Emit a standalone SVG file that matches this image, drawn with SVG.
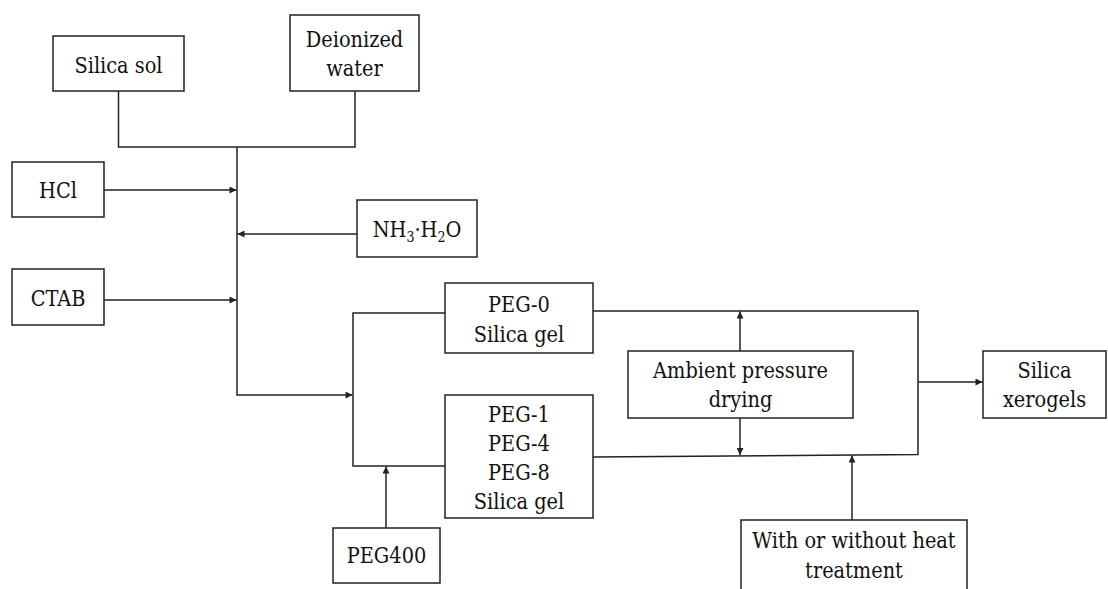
<svg xmlns="http://www.w3.org/2000/svg" width="1108" height="589" viewBox="0 0 1108 589">
<style>
.box{fill:#fff;stroke:#222;stroke-width:1.5}
.ln{fill:none;stroke:#222;stroke-width:1.5}
text{font-family:'DejaVu Serif Condensed','DejaVu Serif',serif;font-stretch:condensed;font-size:21.5px;fill:#111;text-anchor:middle}
</style>
<defs>
<marker id="ah" viewBox="0 0 10 10" refX="10" refY="5" markerWidth="9" markerHeight="7" markerUnits="userSpaceOnUse" orient="auto">
<path d="M0 0 L10 5 L0 10 Z" fill="#222"/>
</marker>
</defs>
<rect width="1108" height="589" fill="#fff"/>
<g id="connectors">
<path class="ln" d="M118.5 91 V147 H355 V91"/>
<path class="ln" d="M237 147 V395 H352.5" marker-end="url(#ah)"/>
<path class="ln" d="M104 190 H236.5" marker-end="url(#ah)"/>
<path class="ln" d="M357 234 H237.5" marker-end="url(#ah)"/>
<path class="ln" d="M104 300 H236.5" marker-end="url(#ah)"/>
<path class="ln" d="M445 313 H353 V466 H445"/>
<path class="ln" d="M386 528 V466.5" marker-end="url(#ah)"/>
<path class="ln" d="M593 311 H918 V454.5 L593 457"/>
<path class="ln" d="M740 351 V311.5" marker-end="url(#ah)"/>
<path class="ln" d="M740 418 V455" marker-end="url(#ah)"/>
<path class="ln" d="M918 382 H982.5" marker-end="url(#ah)"/>
<path class="ln" d="M852 520 V455.5" marker-end="url(#ah)"/>
</g>
<g id="silica-sol">
<rect class="box" x="53" y="36" width="131" height="55"/>
<text x="118.5" y="72.5">Silica sol</text>
</g>
<g id="deionized-water">
<rect class="box" x="290" y="15" width="129" height="76"/>
<text x="354.5" y="47">Deionized</text>
<text x="354.5" y="76">water</text>
</g>
<g id="hcl">
<rect class="box" x="12" y="162" width="92" height="55"/>
<text x="58" y="198">HCl</text>
</g>
<g id="nh3h2o">
<rect class="box" x="357" y="200" width="120" height="57"/>
<text x="417" y="237">NH<tspan font-size="14" dy="5">3</tspan><tspan dy="-5">·H</tspan><tspan font-size="14" dy="5">2</tspan><tspan dy="-5">O</tspan></text>
</g>
<g id="ctab">
<rect class="box" x="12" y="269" width="92" height="56"/>
<text x="58" y="306">CTAB</text>
</g>
<g id="peg0">
<rect class="box" x="445" y="283" width="148" height="70"/>
<text x="519" y="312">PEG-0</text>
<text x="519" y="342">Silica gel</text>
</g>
<g id="peg148">
<rect class="box" x="445" y="395" width="148" height="123"/>
<text x="519" y="422">PEG-1</text>
<text x="519" y="451">PEG-4</text>
<text x="519" y="480">PEG-8</text>
<text x="519" y="509">Silica gel</text>
</g>
<g id="peg400">
<rect class="box" x="333" y="528" width="107" height="55"/>
<text x="386.5" y="563">PEG400</text>
</g>
<g id="ambient">
<rect class="box" x="628" y="351" width="225" height="67"/>
<text x="740.5" y="378">Ambient pressure</text>
<text x="740.5" y="407">drying</text>
</g>
<g id="xerogels">
<rect class="box" x="983" y="351" width="123" height="67"/>
<text x="1044.5" y="378">Silica</text>
<text x="1044.5" y="407">xerogels</text>
</g>
<g id="heat">
<path class="box" d="M741 592 V520 H967 V592"/>
<text x="854" y="548">With or without heat</text>
<text x="854" y="578">treatment</text>
</g>
</svg>
